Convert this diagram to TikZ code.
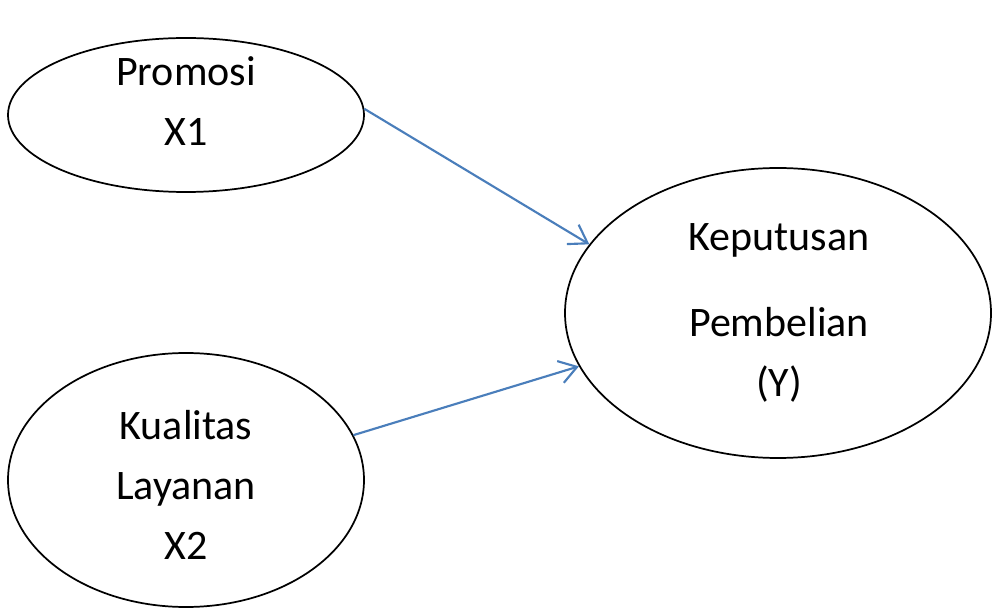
\documentclass[tikz,border=0pt]{standalone}
\usepackage{fontspec}
\setmainfont{Carlito}
\usetikzlibrary{shapes.geometric,arrows.meta}
\definecolor{arrowblue}{HTML}{4A7EBB}
\tikzset{
  varbox/.style={draw,ellipse,inner sep=0pt,line width=1.3pt},
  vartext/.style={align=center,inner sep=0pt,
    font=\fontsize{31.5}{45}\selectfont},
  path/.style={draw=arrowblue,line width=1.6pt,
    -{Straight Barb[length=13pt,width=17pt]}}
}
\begin{document}
\begin{tikzpicture}[x=0.75pt,y=-0.75pt]
    \useasboundingbox (0,0) rectangle (992,609);
    % variables
    \node[varbox,minimum width=267pt,minimum height=115.5pt] (promosi) at (186,115) {};
    \node[vartext] (promosi text) at (186,101) {Promosi\\X1};
    \node[varbox,minimum width=267pt,minimum height=190.5pt] (layanan) at (186,480) {};
    \node[vartext] (layanan text) at (186,485) {Kualitas\\Layanan\\X2};
    \node[varbox,minimum width=319.5pt,minimum height=217.5pt] (keputusan) at (778,313) {};
    \node[vartext] (keputusan text) at (779,313) {Keputusan\\[20pt]Pembelian\\(Y)};
    % paths
    \draw[path] (promosi.2) -- (keputusan.160);
    \draw[path] (layanan.15) -- (keputusan.195);
\end{tikzpicture}
\end{document}
